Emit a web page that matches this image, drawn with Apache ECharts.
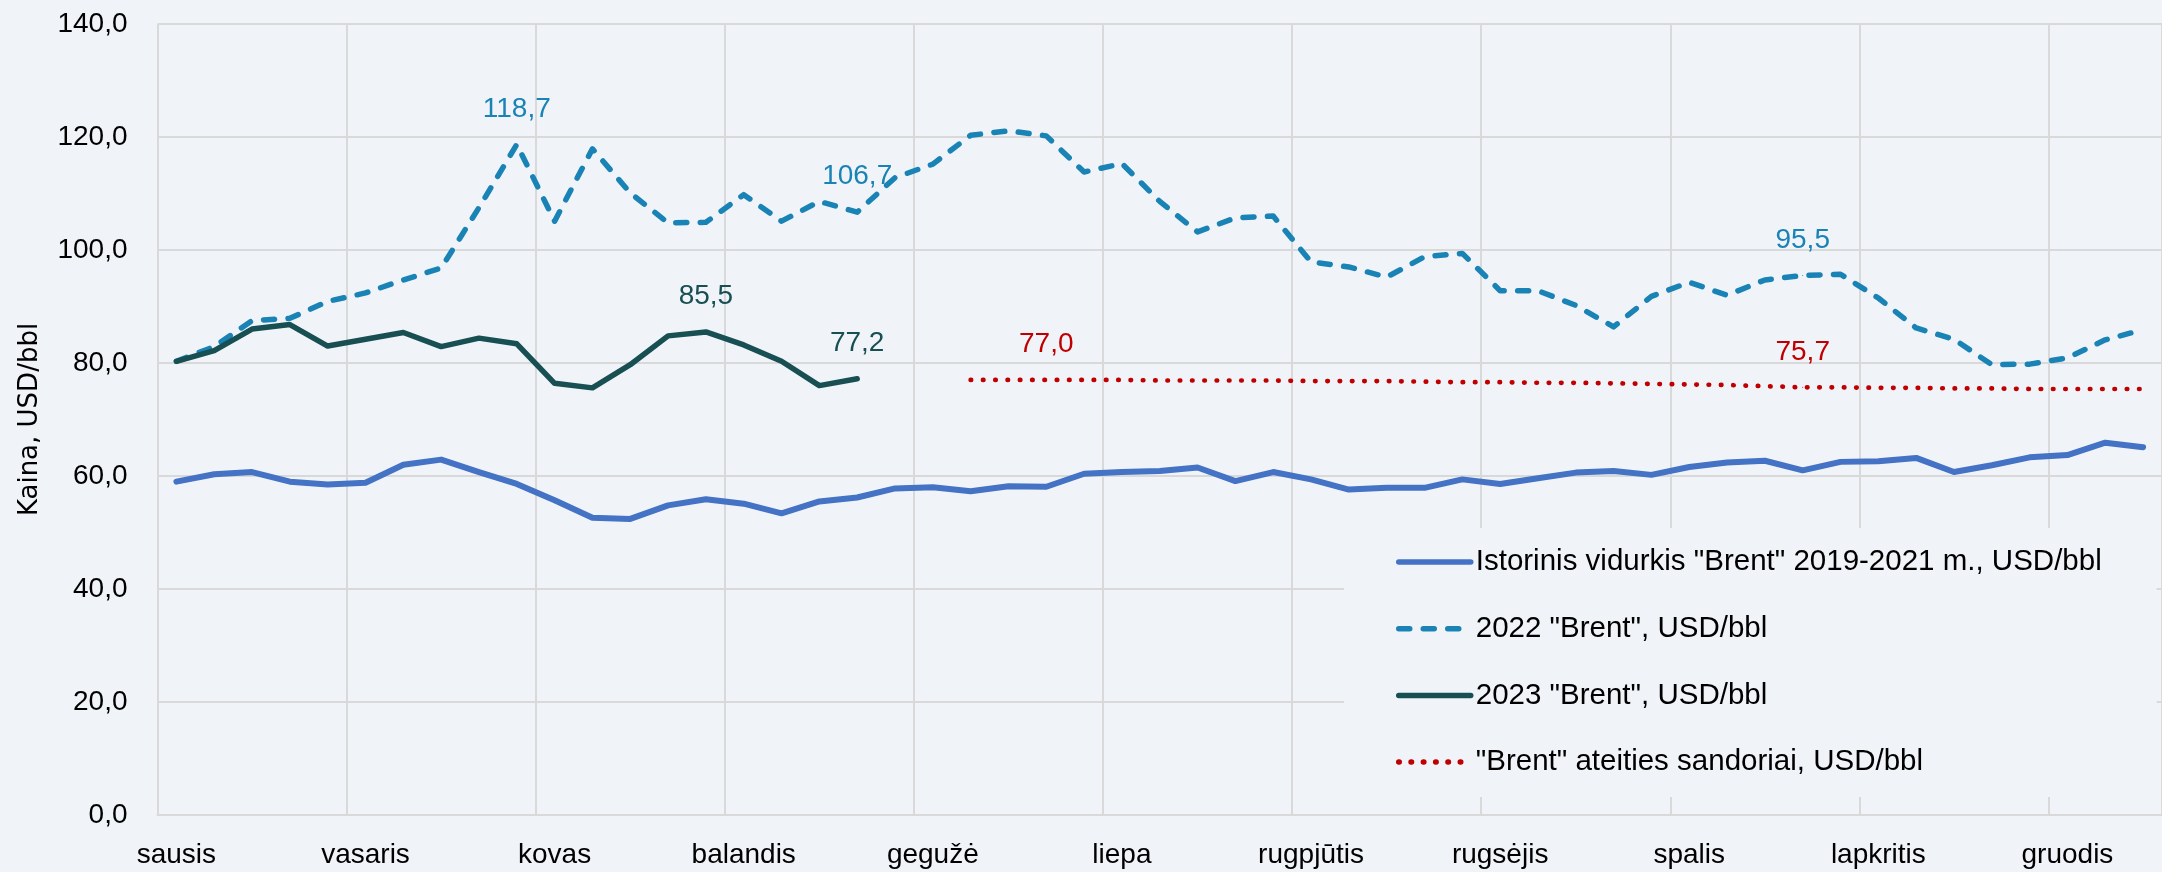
<!DOCTYPE html>
<html>
<head>
<meta charset="utf-8">
<script src="https://cdn.jsdelivr.net/npm/echarts@6/dist/echarts.min.js"></script>
<style>
html,body{margin:0;padding:0;background:#F0F4F8;}
#chart{width:2162px;height:872px;}
</style>
</head>
<body>
<div id="chart"></div>
<script>
// 53 weekly categories
const weeks = ['1','2','3','4','5','6','7','8','9','10','11','12','13','14','15','16','17','18','19','20',
  '21','22','23','24','25','26','27','28','29','30','31','32','33','34','35','36','37','38','39','40',
  '41','42','43','44','45','46','47','48','49','50','51','52','53'];
const monthLabels = ['sausis','vasaris','kovas','balandis','gegužė','liepa','rugpjūtis','rugsėjis','spalis','lapkritis','gruodis'];
const yTicks = [0, 20, 40, 60, 80, 100, 120, 140];

const seriesNames = ['Istorinis vidurkis "Brent" 2019-2021 m., USD/bbl', '2022 "Brent", USD/bbl', '2023 "Brent", USD/bbl', '"Brent" ateities sandoriai, USD/bbl'];

const historical = [59.0,60.3,60.7,59.0,58.5,58.8,62.0,62.9,60.7,58.6,55.7,52.6,52.4,54.8,55.9,55.1,53.4,55.5,56.2,57.8,
  58.0,57.3,58.2,58.1,60.4,60.7,60.9,61.5,59.1,60.7,59.4,57.6,57.9,57.9,59.4,58.6,59.6,60.6,60.9,60.2,
  61.6,62.4,62.7,61.0,62.5,62.6,63.2,60.7,61.9,63.3,63.7,65.9,65.1];
const brent2022 = [80.3,82.9,87.5,87.9,90.9,92.4,94.7,96.8,107.5,118.7,105.1,117.9,110.1,104.8,104.9,109.8,105.1,108.6,106.7,112.8,
  115.2,120.3,121.1,120.2,113.8,115.3,108.6,103.2,105.7,106.0,97.9,97.0,95.2,98.8,99.4,92.8,92.8,90.2,86.4,91.8,
  94.3,92.0,94.7,95.5,95.7,91.5,86.2,84.2,79.7,79.8,80.9,84.1,85.9];
const brent2023 = [80.3,82.2,86.0,86.8,83.0,84.2,85.4,82.9,84.4,83.4,76.4,75.6,79.7,84.8,85.5,83.2,80.3,76.0,77.2];
const futures = [null,null,null,null,null,null,null,null,null,null,null,null,null,null,null,null,null,null,null,null,null,
  77.0,77.0,77.0,77.0,77.0,76.9,76.9,76.9,76.9,76.8,76.8,76.8,76.7,76.6,76.6,76.5,76.5,76.4,76.3,76.2,
  76.1,75.9,75.7,75.7,75.6,75.6,75.5,75.5,75.4,75.4,75.4,75.4];

const labels2022 = [9, 18, 43];
const labels2023 = [14, 18];
const labelsFutures = [23, 43];

const fmt = v => v.toFixed(1).replace('.', ',');
const withLabels = (arr, idxs, color) => arr.map((v, i) => idxs.includes(i)
  ? {value: v, symbol: 'circle', symbolSize: 1,
      label: {show: true, position: 'top', distance: 21, color: color, fontSize: 28,
        fontFamily: 'Liberation Sans', formatter: p => fmt(p.value)}}
  : v);

const C_HIST = '#4472C4', C_22 = '#1A83B6', C_23 = '#174F53', C_FUT = '#C00000';
const GRID = '#D9D9D9';
const BG = '#F0F4F8';

const common = {type: 'line', symbol: 'none', showSymbol: true, showAllSymbol: true, silent: true};

const chart = echarts.init(document.getElementById('chart'));
chart.setOption({
  backgroundColor: BG,
  animation: false,
  grid: {left: 157.5, right: -14, top: 24, bottom: 57, containLabel: false},
  legend: {
    orient: 'vertical', left: 1344, top: 528,
    padding: [19, 55, 20, 52],
    backgroundColor: BG,
    itemWidth: 72, itemHeight: 20, itemGap: 36.7,
    selectedMode: false,
    itemStyle: {opacity: 0},
    lineStyle: {width: 5.5},
    textStyle: {fontSize: 29.5, lineHeight: 30, color: '#000', fontFamily: 'Liberation Sans'},
    data: seriesNames
  },
  xAxis: {
    type: 'category', data: weeks, boundaryGap: true,
    axisLine: {show: true, lineStyle: {color: GRID, width: 2}},
    axisTick: {show: false, interval: 4},
    splitLine: {show: true, interval: 4, lineStyle: {color: GRID, width: 2}},
    axisLabel: {interval: 4, margin: 26, fontSize: 28, color: '#000', fontFamily: 'Liberation Sans',
      formatter: (v, i) => monthLabels[i / 5] || ''}
  },
  yAxis: {
    type: 'value', min: yTicks[0], max: yTicks[yTicks.length - 1], interval: 20,
    name: 'Kaina, USD/bbl', nameLocation: 'middle', nameGap: 114,
    nameTextStyle: {fontSize: 26, color: '#000', fontFamily: 'DejaVu Sans'},
    axisLine: {show: false}, axisTick: {show: false},
    splitLine: {lineStyle: {color: GRID, width: 2}},
    axisLabel: {margin: 30, fontSize: 28, color: '#000', fontFamily: 'Liberation Sans', formatter: fmt}
  },
  series: [
    Object.assign({}, common, {name: seriesNames[0], data: historical,
      lineStyle: {color: C_HIST, width: 6, cap: 'round', join: 'round'}, itemStyle: {color: C_HIST}}),
    Object.assign({}, common, {name: seriesNames[1], data: withLabels(brent2022, labels2022, C_22),
      lineStyle: {color: C_22, width: 5.5, type: [11, 13.5], cap: 'round', join: 'round'}, itemStyle: {color: C_22}}),
    Object.assign({}, common, {name: seriesNames[2], data: withLabels(brent2023, labels2023, C_23),
      lineStyle: {color: C_23, width: 5.5, cap: 'round', join: 'round'}, itemStyle: {color: C_23}}),
    Object.assign({}, common, {name: seriesNames[3], data: withLabels(futures, labelsFutures, C_FUT),
      lineStyle: {color: C_FUT, width: 4.7, type: [0.5, 11.8], cap: 'round'}, itemStyle: {color: C_FUT}})
  ]
});
</script>
</body>
</html>
